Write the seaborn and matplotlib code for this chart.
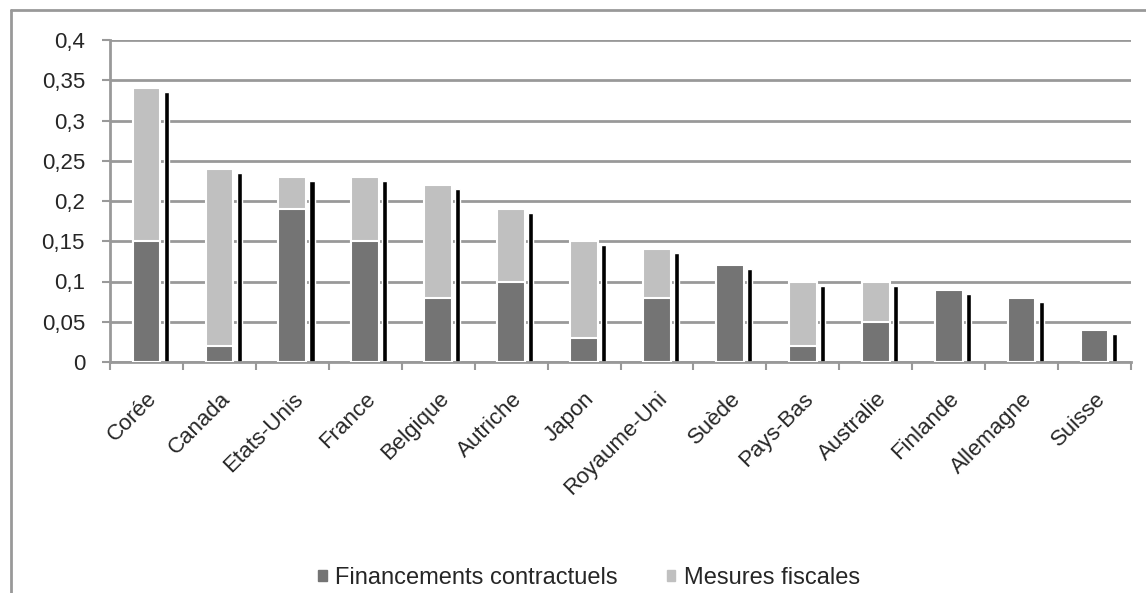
import numpy as np
import pandas as pd
import matplotlib
matplotlib.use('Agg')
import matplotlib.pyplot as plt
import seaborn as sns
from matplotlib.patches import Patch
from matplotlib.lines import Line2D

# Données
pays = ['Corée', 'Canada', 'Etats-Unis', 'France', 'Belgique', 'Autriche', 'Japon',
        'Royaume-Uni', 'Suède', 'Pays-Bas', 'Australie', 'Finlande', 'Allemagne', 'Suisse']
financements = [0.15, 0.02, 0.19, 0.15, 0.08, 0.10, 0.03, 0.08, 0.12, 0.02, 0.05, 0.09, 0.08, 0.04]
mesures = [0.19, 0.22, 0.04, 0.08, 0.14, 0.09, 0.12, 0.06, 0.00, 0.08, 0.05, 0.00, 0.00, 0.00]
yticks = [0, 0.05, 0.1, 0.15, 0.2, 0.25, 0.3, 0.35, 0.4]
ytick_labels = ['0', '0,05', '0,1', '0,15', '0,2', '0,25', '0,3', '0,35', '0,4']

df = pd.DataFrame({'pays': pays, 'financements': financements, 'mesures': mesures})
df['total'] = df['financements'] + df['mesures']

sns.set_style('white')
plt.rcParams['font.family'] = ['Liberation Sans', 'DejaVu Sans']

couleur_fonce = '#747474'
couleur_clair = '#c0c0c0'
gris = '#999999'

fig = plt.figure(figsize=(11.46, 5.93), dpi=100)
ax = fig.add_axes([110/1146, 1 - 362/593, (1131 - 110)/1146, (362 - 40)/593])

# Ombre noire à droite de chaque barre
x = np.arange(len(pays))
ax.bar(x + 0.27, df['total'] - 0.005, width=0.07, color='black', zorder=2)

# Barres empilées
sns.barplot(data=df, x='pays', y='total', color=couleur_clair, width=0.38,
            edgecolor='white', linewidth=1.5, saturation=1, ax=ax, zorder=3)
sns.barplot(data=df, x='pays', y='financements', color=couleur_fonce, width=0.38,
            edgecolor='white', linewidth=1.5, saturation=1, ax=ax, zorder=4)

ax.set_xlim(-0.5, len(pays) - 0.5)
ax.set_ylim(0, 0.4)
ax.set_yticks(yticks)
ax.set_yticklabels(ytick_labels, fontsize=16)
ax.set_xticks(x)
ax.set_xticklabels(pays, rotation=45, ha='right', rotation_mode='anchor', fontsize=16)
ax.set_xticks(np.arange(len(pays) + 1) - 0.5, minor=True)
ax.tick_params(axis='x', which='major', length=0, pad=19)
ax.tick_params(axis='x', which='minor', length=6, width=1.5, color=gris, direction='out', bottom=True)
ax.tick_params(axis='y', length=6, width=1.5, color=gris, direction='out', left=True, pad=12)
ax.set_xlabel('')
ax.set_ylabel('')

ax.yaxis.grid(True, color=gris, linewidth=2)
ax.set_axisbelow(True)
for s in ['top', 'right']:
    ax.spines[s].set_visible(False)
for s in ['left', 'bottom']:
    ax.spines[s].set_color(gris)
    ax.spines[s].set_linewidth(2)

# Cadre extérieur
fig.add_artist(Line2D([11/1146, 11/1146], [1 - 10/593, 0], transform=fig.transFigure,
                      color=gris, linewidth=2))
fig.add_artist(Line2D([11/1146, 1], [1 - 10/593, 1 - 10/593], transform=fig.transFigure,
                      color=gris, linewidth=2))

# Légende
handles = [Patch(color=couleur_fonce, label='Financements contractuels'),
           Patch(color=couleur_clair, label='Mesures fiscales')]
fig.legend(handles=handles, loc='center', bbox_to_anchor=(589/1146, 1 - 578/593), ncol=2,
           frameon=False, fontsize=17, handlelength=0.35, handleheight=0.35,
           handletextpad=0.35, columnspacing=2.1, borderpad=0)

fig.savefig('out.png', dpi=100)
